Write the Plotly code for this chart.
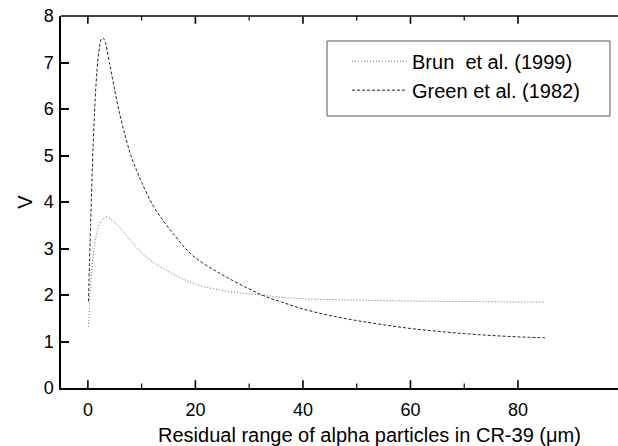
import plotly.graph_objects as go

# Green et al. (1982)
green_x = [0.1, 0.5, 1.0, 1.5, 2.0, 2.5, 2.8, 3.2, 4, 5, 6, 7, 8, 9, 10, 12, 14, 16, 18,
           20, 23, 26, 30, 33, 36, 40, 45, 50, 55, 60, 65, 70, 75, 80, 85]
green_v = [1.86, 3.5, 5.3, 6.5, 7.2, 7.5, 7.53, 7.45, 7.0, 6.4, 5.85, 5.4, 5.0, 4.7, 4.42,
           3.95, 3.6, 3.3, 3.02, 2.8, 2.57, 2.37, 2.13, 1.97, 1.85, 1.7, 1.56, 1.45,
           1.36, 1.28, 1.22, 1.17, 1.13, 1.1, 1.08]

# Brun et al. (1999)
brun_x = [0.1, 0.5, 1.0, 1.5, 2.0, 2.7, 3.4, 4.2, 5.5, 7, 8.5, 10, 12, 14, 17, 20,
          24, 28, 32, 36, 40, 50, 60, 70, 80, 85]
brun_v = [1.31, 2.2, 2.85, 3.25, 3.48, 3.63, 3.68, 3.64, 3.5, 3.3, 3.1, 2.9, 2.72, 2.57,
          2.38, 2.23, 2.12, 2.05, 2.0, 1.95, 1.92, 1.89, 1.87, 1.86, 1.85, 1.85]

x_major_ticks = [0, 20, 40, 60, 80]
x_minor_ticks = [10, 30, 50, 70]
y_ticks = [0, 1, 2, 3, 4, 5, 6, 7, 8]

x_title = "Residual range of alpha particles in CR-39 (\u03bcm)"
y_title = "V"

FONT = "Liberation Sans, Arial, sans-serif"

fig = go.Figure()
fig.add_trace(go.Scatter(x=brun_x, y=brun_v, mode="lines", line_shape="spline",
                         name="Brun\u00a0 et al. (1999)", legendgroup="a",
                         line=dict(color="#666666", width=1, dash="1px,2px")))
fig.add_trace(go.Scatter(x=green_x, y=green_v, mode="lines", line_shape="spline",
                         name="Green et al. (1982)", legendgroup="b",
                         line=dict(color="#222222", width=1, dash="3px,2px")))

# legend frame (paper coordinates)
fig.add_shape(type="rect", xref="paper", yref="paper",
              x0=0.4776, x1=0.9856, y0=0.7312, y1=0.9328,
              line=dict(color="#555555", width=1), fillcolor="white", layer="below")

# top frame line
fig.add_shape(type="line", xref="paper", yref="paper", x0=0, x1=1, y0=1, y1=1,
              line=dict(color="black", width=1.5))
# inward tick marks on bottom and top edges
MAJ = 0.021  # ~8 px of plot height
MIN = 0.012  # ~4-5 px
for t in x_major_ticks:
    fig.add_shape(type="line", xref="x", yref="paper", x0=t, x1=t, y0=1, y1=1 - MAJ,
                  line=dict(color="black", width=1.6))
    fig.add_shape(type="line", xref="x", yref="paper", x0=t, x1=t, y0=0, y1=MAJ,
                  line=dict(color="black", width=1.6))
for t in x_minor_ticks:
    fig.add_shape(type="line", xref="x", yref="paper", x0=t, x1=t, y0=1, y1=1 - MIN,
                  line=dict(color="black", width=1.2))
    fig.add_shape(type="line", xref="x", yref="paper", x0=t, x1=t, y0=0, y1=MIN,
                  line=dict(color="black", width=1.2))

# x-axis title placed as annotation (original is centred on a wider frame)
fig.add_annotation(text=x_title, xref="paper", yref="paper", x=0.553, y=-0.126,
                   xanchor="center", yanchor="middle", showarrow=False,
                   font=dict(size=20, family=FONT, color="black"))

fig.update_layout(
    width=618, height=446,
    margin=dict(l=61, r=0, t=16, b=58),
    paper_bgcolor="white", plot_bgcolor="white",
    font=dict(family=FONT, size=18, color="black"),
    showlegend=True,
    legend=dict(x=0.5135, y=0.931, xanchor="left", yanchor="top",
                borderwidth=0, bgcolor="rgba(0,0,0,0)",
                font=dict(size=20), itemwidth=55, tracegroupgap=0),
)
fig.update_xaxes(
    range=[-5, 98.6], showgrid=False, zeroline=False,
    showline=True, linecolor="black", linewidth=1.5, mirror=False,
    ticks="", tickmode="array", tickvals=x_major_ticks,
    ticklabelstandoff=5,
)
fig.update_yaxes(
    range=[0, 8], showgrid=False, zeroline=False,
    showline=True, linecolor="black", linewidth=1.5, mirror=False,
    ticks="inside", ticklen=8, tickwidth=1.5, tickcolor="black",
    tickmode="array", tickvals=y_ticks,
    ticklabelstandoff=2,
    title=dict(text=y_title, standoff=6, font=dict(size=20)),
)

fig.write_html("out.html")
